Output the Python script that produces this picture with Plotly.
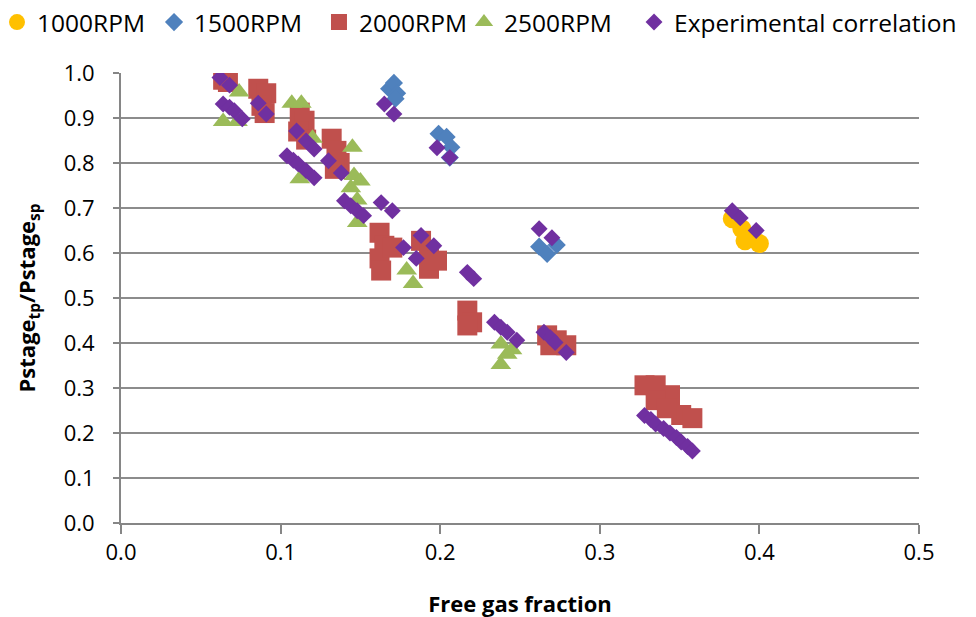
import plotly.graph_objects as go

# 1000 RPM
x1000 = [0.383, 0.389, 0.395, 0.400, 0.391]
y1000 = [0.676, 0.654, 0.636, 0.621, 0.627]

# 1500 RPM
x1500 = [0.168, 0.171, 0.173, 0.172, 0.199, 0.204, 0.207, 0.206, 0.262, 0.267, 0.273]
y1500 = [0.965, 0.978, 0.955, 0.943, 0.865, 0.858, 0.835, 0.812, 0.614, 0.598, 0.618]

# 2000 RPM
x2000 = [0.064, 0.067, 0.086, 0.091, 0.088, 0.090,
         0.112, 0.115, 0.111, 0.116,
         0.132, 0.135, 0.137, 0.134,
         0.162, 0.165, 0.162, 0.163, 0.170,
         0.188, 0.193, 0.193, 0.198,
         0.217, 0.220, 0.217,
         0.267, 0.273, 0.279, 0.269,
         0.328, 0.335, 0.344, 0.335, 0.351, 0.358, 0.342]
y2000 = [0.985, 0.980, 0.965, 0.955, 0.927, 0.911,
         0.912, 0.894, 0.870, 0.852,
         0.854, 0.827, 0.800, 0.787,
         0.645, 0.616, 0.588, 0.561, 0.612,
         0.627, 0.600, 0.565, 0.583,
         0.472, 0.446, 0.439,
         0.417, 0.406, 0.395, 0.395,
         0.306, 0.306, 0.284, 0.273, 0.240, 0.233, 0.255]

# 2500 RPM
x2500 = [0.074, 0.064, 0.073, 0.107, 0.113, 0.120, 0.112,
         0.145, 0.146, 0.144, 0.148, 0.150, 0.148,
         0.179, 0.183, 0.238, 0.242, 0.238, 0.245]
y2500 = [0.958, 0.892, 0.892, 0.933, 0.933, 0.855, 0.765,
         0.835, 0.772, 0.745, 0.718, 0.760, 0.668,
         0.562, 0.532, 0.398, 0.375, 0.352, 0.385]

# Experimental correlation
xcor = [0.062, 0.068,
        0.064, 0.068, 0.071, 0.076,
        0.086, 0.091,
        0.110, 0.116, 0.121,
        0.104, 0.108, 0.111, 0.116, 0.121,
        0.130, 0.138,
        0.140, 0.144, 0.148, 0.152,
        0.163, 0.170,
        0.177, 0.185,
        0.188, 0.196,
        0.217, 0.221,
        0.234, 0.238, 0.242, 0.248,
        0.265, 0.269, 0.272, 0.279,
        0.328, 0.332, 0.335, 0.340, 0.344, 0.348, 0.351, 0.355, 0.358,
        0.198, 0.206,
        0.165, 0.171,
        0.262, 0.270,
        0.383, 0.388, 0.398]
ycor = [0.990, 0.973,
        0.931, 0.924, 0.916, 0.898,
        0.933, 0.909,
        0.871, 0.849, 0.831,
        0.816, 0.806, 0.798, 0.783, 0.767,
        0.805, 0.778,
        0.716, 0.705, 0.694, 0.683,
        0.712, 0.694,
        0.612, 0.588,
        0.639, 0.616,
        0.557, 0.543,
        0.446, 0.435, 0.424, 0.406,
        0.424, 0.412, 0.401, 0.379,
        0.239, 0.230, 0.220, 0.210, 0.200, 0.190, 0.180, 0.170, 0.160,
        0.834, 0.812,
        0.931, 0.909,
        0.654, 0.634,
        0.694, 0.678, 0.650]

FONT = "Open Sans, Arial, sans-serif"

fig = go.Figure()
fig.add_trace(go.Scatter(x=x1000, y=y1000, mode="markers", name="1000RPM",
                         legend="legend",
                         marker=dict(symbol="circle", size=19, color="#FFC000")))
fig.add_trace(go.Scatter(x=x1500, y=y1500, mode="markers", name="1500RPM",
                         legend="legend2",
                         marker=dict(symbol="diamond", size=14, color="#4F81BD")))
fig.add_trace(go.Scatter(x=x2000, y=y2000, mode="markers", name="2000RPM",
                         legend="legend3",
                         marker=dict(symbol="square", size=20, color="#C0504D")))
fig.add_trace(go.Scatter(x=x2500, y=y2500, mode="markers", name="2500RPM",
                         legend="legend4",
                         marker=dict(symbol="triangle-up", size=18, color="#9BBB59")))
fig.add_trace(go.Scatter(x=xcor, y=ycor, mode="markers", name="Experimental correlation",
                         legend="legend5",
                         marker=dict(symbol="diamond", size=13, color="#7030A0")))


def leg(xpos):
    return dict(orientation="h", xref="paper", yref="paper",
                x=xpos, y=1.163, xanchor="left", yanchor="top",
                font=dict(size=24.5), itemsizing="trace", itemwidth=30,
                bgcolor="rgba(0,0,0,0)")


fig.update_layout(
    width=976, height=617,
    paper_bgcolor="white", plot_bgcolor="white",
    margin=dict(l=113, r=65, t=65, b=102, autoexpand=False),
    font=dict(family=FONT, size=22, color="#000000"),
    legend=leg(-0.1554),
    legend2=leg(0.0414),
    legend3=leg(0.2481),
    legend4=leg(0.4298),
    legend5=leg(0.6429),
    showlegend=True,
)
fig.update_xaxes(range=[0, 0.5], dtick=0.1, tickformat=".1f", automargin=False,
                 showline=True, linecolor="#868686", linewidth=2,
                 ticks="outside", ticklen=9, tickcolor="#868686", tickwidth=2,
                 showgrid=False, zeroline=False,
                 tickfont=dict(size=22, color="#000000"),
                 title=dict(text="<b>Free gas fraction</b>", font=dict(size=22), standoff=31))
fig.update_yaxes(range=[0, 1.0], dtick=0.1, tickformat=".1f", automargin=False,
                 showline=True, linecolor="#868686", linewidth=2,
                 ticks="outside", ticklen=6, tickcolor="#868686", tickwidth=2,
                 ticklabelstandoff=14,
                 showgrid=True, gridcolor="#8c8c8c", gridwidth=2,
                 zeroline=False,
                 tickfont=dict(size=22, color="#000000"),
                 title=dict(text="<b>Pstage<sub>tp</sub>/Pstage<sub>sp</sub></b>", font=dict(size=22), standoff=22))

fig.write_html("out.html")
